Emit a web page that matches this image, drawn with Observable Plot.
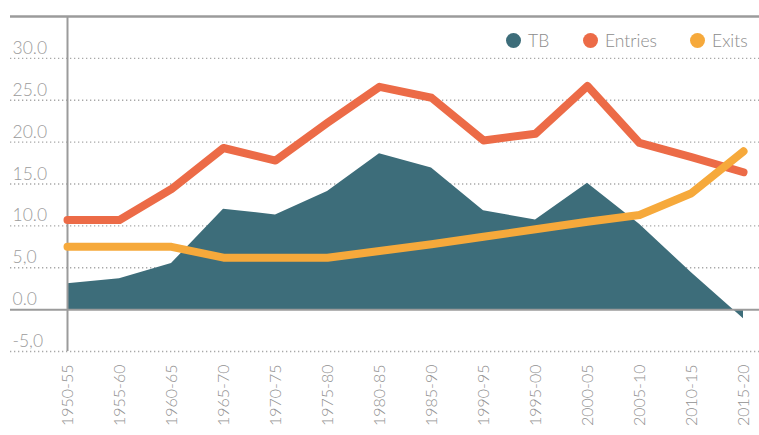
<!DOCTYPE html>
<html>
<head>
<meta charset="utf-8">
<script src="https://cdn.jsdelivr.net/npm/d3@7"></script>
<script src="https://cdn.jsdelivr.net/npm/@observablehq/plot@0.6"></script>
<style>
  html, body { margin: 0; padding: 0; background: #fff; }
  #chart { position: relative; width: 759px; height: 435px; overflow: hidden; font-family: Lato, "Open Sans", sans-serif; }
  .legend-item { position: absolute; top: 30px; display: flex; align-items: center; font-size: 17.5px; font-weight: 300; color: #8c8c8c; }
  .legend-item .swatch { width: 15px; height: 15px; border-radius: 50%; margin-right: 7px; }
</style>
</head>
<body>
<div id="chart"></div>
<script>
// Five-year periods along the x axis
const periods = ["1950-55", "1955-60", "1960-65", "1965-70", "1970-75", "1975-80", "1980-85",
                 "1985-90", "1990-95", "1995-00", "2000-05", "2005-10", "2010-15", "2015-20"];

// Series values per period
const tb      = [3.1, 3.7, 5.5, 12.0, 11.3, 14.1, 18.6, 16.9, 11.8, 10.7, 15.1, 10.2, 4.4, -1.1];
const entries = [10.7, 10.7, 14.4, 19.3, 17.8, 22.3, 26.6, 25.3, 20.2, 21.0, 26.7, 19.9, 18.2, 16.4];
const exits   = [7.5, 7.5, 7.5, 6.2, 6.2, 6.2, 7.0, 7.8, 8.7, 9.6, 10.5, 11.3, 13.9, 18.9];

// Series names and colours
const seriesNames  = ["TB", "Entries", "Exits"];
const seriesColors = ["#3d6d7a", "#ec6b47", "#f6a93b"];
const legendLeft   = [506, 583, 690];

// Y axis ticks and their printed labels
const yTicks  = [30, 25, 20, 15, 10, 5, 0, -5];
const yLabels = ["30.0", "25.0", "20.0", "15.0", "10.0", "5,0", "0.0", "-5,0"];
const yTop = 35;

const rows = periods.map((p, i) => ({period: p, tb: tb[i], entries: entries[i], exits: exits[i]}));
const grey = "#9b9b9b";

const chart = Plot.plot({
  width: 759,
  height: 435,
  marginLeft: 61,
  marginRight: 10,
  marginTop: 16,
  marginBottom: 84,
  style: {fontFamily: "Lato, 'Open Sans', sans-serif", background: "#fff"},
  x: {type: "point", domain: periods, padding: 0},
  y: {domain: [-5, yTop], axis: null},
  marks: [
    // dotted gridlines reaching under the tick labels
    Plot.ruleY(yTicks.filter(d => d !== 0), {stroke: "#a8a8a8", strokeWidth: 1.3, strokeDasharray: "1.3,2.7", insetLeft: -51, insetRight: -10}),
    // TB area
    Plot.areaY(rows, {x: "period", y: "tb", fill: seriesColors[0]}),
    // zero baseline and top border
    Plot.ruleY([0], {stroke: grey, strokeWidth: 2, insetLeft: -51, insetRight: -10}),
    Plot.ruleY([yTop], {stroke: grey, strokeWidth: 2.5, insetLeft: -51, insetRight: -10}),
    // vertical axis line
    Plot.ruleX([periods[0]], {y1: -5, y2: yTop, stroke: grey, strokeWidth: 2}),
    // entries and exits lines
    Plot.lineY(rows, {x: "period", y: "entries", stroke: seriesColors[1], strokeWidth: 8, strokeLinecap: "round", strokeLinejoin: "round"}),
    Plot.lineY(rows, {x: "period", y: "exits", stroke: seriesColors[2], strokeWidth: 8, strokeLinecap: "round", strokeLinejoin: "round"}),
    // y tick labels sitting above each gridline
    Plot.text(yTicks, {y: d => d, text: (d, i) => yLabels[i], frameAnchor: "left", textAnchor: "start", dx: -49, dy: -10, fontSize: 17.5, fontWeight: 300, fill: grey}),
    // rotated period labels
    Plot.axisX({tickSize: 0, tickPadding: 13, tickRotate: -90, fontSize: 16, fontWeight: 300, color: "#909090", label: null})
  ]
});

const root = document.getElementById("chart");
root.appendChild(chart);

// legend inside the top-right of the plot
seriesNames.forEach((name, i) => {
  const item = document.createElement("div");
  item.className = "legend-item";
  item.style.left = legendLeft[i] + "px";
  const sw = document.createElement("span");
  sw.className = "swatch";
  sw.style.background = seriesColors[i];
  const label = document.createElement("span");
  label.textContent = name;
  item.appendChild(sw);
  item.appendChild(label);
  root.appendChild(item);
});
</script>
</body>
</html>
